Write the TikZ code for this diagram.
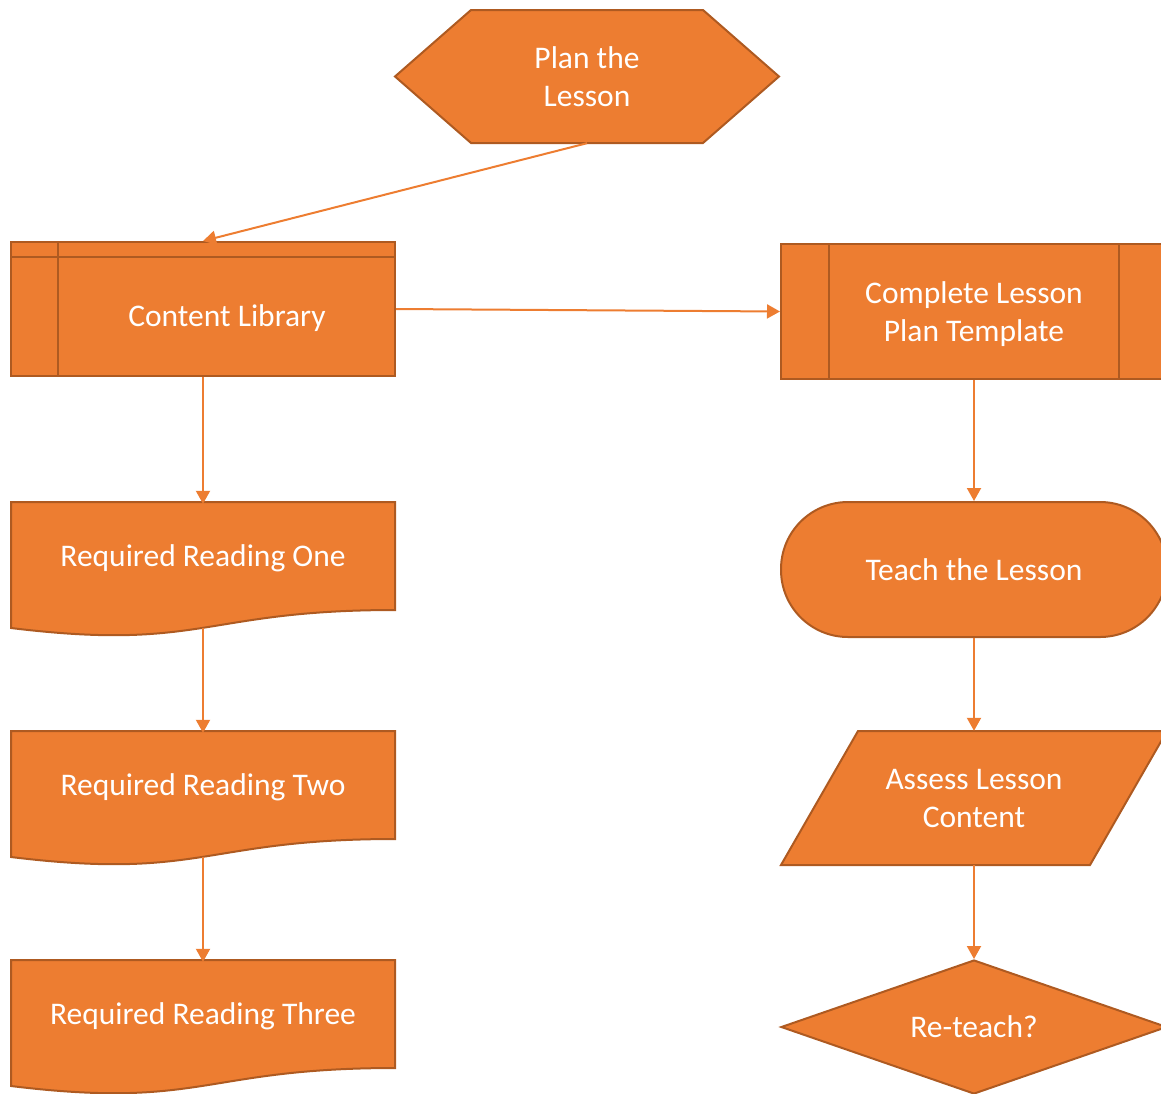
\documentclass[tikz,border=0pt]{standalone}
\usepackage{fontspec}
\setmainfont{Carlito}
\usetikzlibrary{shapes.geometric,arrows.meta}
\definecolor{lessonfill}{HTML}{ED7D31}
\definecolor{lessonedge}{HTML}{AE5A21}
\tikzset{
  flowshape/.style={fill=lessonfill, draw=lessonedge, line width=2pt, line join=miter},
  flowtext/.style={text=white, font=\fontsize{31.5}{38}\selectfont, align=center, inner sep=0pt},
  flowbox/.style={flowshape, flowtext, rectangle, minimum width=384pt, minimum height=134pt},
  link/.style={draw=lessonfill, line width=2pt, -{Triangle[width=14pt,length=13pt]}}
}
\begin{document}
\begin{tikzpicture}[x=1pt,y=-1pt]
      \useasboundingbox (0,0) rectangle (1161,1093);
      % start
      \path[flowshape] (395,76.5) -- (471,10) -- (703,10) -- (779,76.5) -- (703,143) -- (471,143) -- cycle;
      \node[flowtext, minimum width=384pt, minimum height=133pt] (plan) at (587,76.5) {Plan the\\Lesson};
      % left column
      \node[flowbox] (lib) at (203,309) {};
      \draw[lessonedge, line width=2pt] ([xshift=48pt]lib.north west) -- ([xshift=48pt]lib.south west);
      \draw[lessonedge, line width=2pt] ([yshift=-16pt]lib.north west) -- ([yshift=-16pt]lib.north east);
      \node[flowtext] (libtext) at (227,318) {Content Library};
      \path[flowshape] (11,502) -- (395,502) -- (395,610) .. controls (203,610) and (203,651.5) .. (11,628) -- cycle;
      \node[flowtext, minimum width=384pt, minimum height=108pt] (one) at (203,558) {Required Reading One};
      \coordinate (onebase) at (203,628);
      \path[flowshape] (11,731) -- (395,731) -- (395,839) .. controls (203,839) and (203,880.5) .. (11,857) -- cycle;
      \node[flowtext, minimum width=384pt, minimum height=108pt] (two) at (203,787) {Required Reading Two};
      \coordinate (twobase) at (203,857);
      \path[flowshape] (11,960) -- (395,960) -- (395,1068) .. controls (203,1068) and (203,1109.5) .. (11,1086) -- cycle;
      \node[flowtext, minimum width=384pt, minimum height=108pt] (three) at (203,1016) {Required Reading Three};
      % right column
      \node[flowbox, minimum width=386pt, minimum height=135pt] (template) at (974,311.5) {};
      \draw[lessonedge, line width=2pt] ([xshift=49pt]template.north west) -- ([xshift=49pt]template.south west);
      \draw[lessonedge, line width=2pt] ([xshift=-49pt]template.north east) -- ([xshift=-49pt]template.south east);
      \node[flowtext] (templatetext) at (974,314) {Complete Lesson\\Plan Template};
      \node[flowbox, rounded corners=67pt, minimum width=386pt, minimum height=135pt] (teach) at (974,569.5) {Teach the Lesson};
      \path[flowshape] (858,731) -- (1167,731) -- (1090,865) -- (781,865) -- cycle;
      \node[flowtext, minimum width=386pt, minimum height=134pt] (assess) at (974,798) {Assess Lesson\\Content};
      \node[flowshape, flowtext, diamond, aspect=2.88, minimum width=386pt, minimum height=134pt] (reteach) at (974,1027) {Re-teach?};
      % connectors
      \draw[link] (plan.south) -- (lib.north);
      \draw[link] (lib.east) -- (template.west);
      \draw[link] (lib.south) -- (one.north);
      \draw[link] (onebase) -- (two.north);
      \draw[link] (twobase) -- (three.north);
      \draw[link] (template.south) -- (teach.north);
      \draw[link] (teach.south) -- (assess.north);
      \draw[link] (assess.south) -- (reteach.north);
\end{tikzpicture}
\end{document}
